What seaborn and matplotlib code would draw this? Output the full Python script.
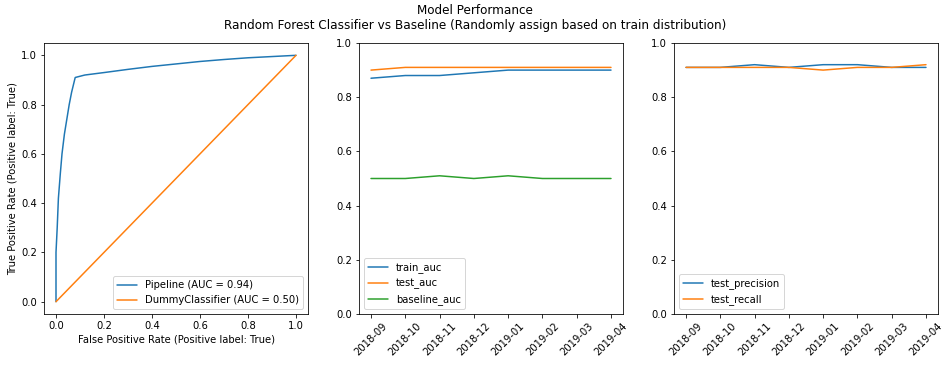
import matplotlib
matplotlib.use("Agg")
import matplotlib.pyplot as plt
import numpy as np
import pandas as pd
import seaborn as sns

# ROC curves
roc_fpr = [0.0, 0.0, 0.005, 0.01, 0.018, 0.025, 0.035, 0.045, 0.055, 0.065, 0.08,
           0.12, 0.2, 0.3, 0.4, 0.5, 0.6, 0.7, 0.8, 0.9, 1.0]
roc_tpr = [0.0, 0.2, 0.3, 0.42, 0.52, 0.6, 0.68, 0.74, 0.8, 0.85, 0.91,
           0.92, 0.93, 0.943, 0.955, 0.965, 0.975, 0.983, 0.99, 0.995, 1.0]
dummy_fpr = [0.0, 1.0]
dummy_tpr = [0.0, 1.0]

months = ['2018-09', '2018-10', '2018-11', '2018-12', '2019-01', '2019-02', '2019-03', '2019-04']
train_auc = [0.87, 0.88, 0.88, 0.89, 0.90, 0.90, 0.90, 0.90]
test_auc = [0.90, 0.91, 0.91, 0.91, 0.91, 0.91, 0.91, 0.91]
baseline_auc = [0.50, 0.50, 0.51, 0.50, 0.51, 0.50, 0.50, 0.50]
test_precision = [0.91, 0.91, 0.92, 0.91, 0.92, 0.92, 0.91, 0.91]
test_recall = [0.91, 0.91, 0.91, 0.91, 0.90, 0.91, 0.91, 0.92]

sns.set_style("ticks", {'text.color': 'black', 'axes.labelcolor': 'black',
                        'xtick.color': 'black', 'ytick.color': 'black',
                        'axes.edgecolor': 'black'})
plt.rcParams['font.family'] = ['DejaVu Sans']
plt.rcParams['font.size'] = 10
pal = sns.color_palette("tab10")

fig = plt.figure(figsize=(950 / 72, 365 / 72), dpi=72)
bottom = 1 - 314 / 365
height = (314 - 43) / 365
ax1 = fig.add_axes([44 / 950, bottom, 264 / 950, height])
ax2 = fig.add_axes([359 / 950, bottom, 264 / 950, height])
ax3 = fig.add_axes([674 / 950, bottom, 264 / 950, height])

# ROC panel
sns.lineplot(x=roc_fpr, y=roc_tpr, ax=ax1, color=pal[0], label='Pipeline (AUC = 0.94)',
             sort=False, estimator=None)
sns.lineplot(x=dummy_fpr, y=dummy_tpr, ax=ax1, color=pal[1], label='DummyClassifier (AUC = 0.50)',
             sort=False, estimator=None)
ax1.set_xlabel('False Positive Rate (Positive label: True)')
ax1.set_ylabel('True Positive Rate (Positive label: True)')
ax1.set_xlim(-0.05, 1.05)
ax1.set_ylim(-0.05, 1.05)
ax1.legend(loc='lower right')

# AUC over time
auc_df = pd.DataFrame({'month': months, 'train_auc': train_auc,
                       'test_auc': test_auc, 'baseline_auc': baseline_auc})
auc_long = auc_df.melt(id_vars='month', var_name='metric', value_name='value')
sns.lineplot(data=auc_long, x='month', y='value', hue='metric', palette=pal[:3], ax=ax2)
ax2.set_ylim(0, 1)
ax2.set_xlabel('')
ax2.set_ylabel('')
ax2.legend(loc='lower left')
ax2.tick_params(axis='x', rotation=45)

# precision / recall over time
pr_df = pd.DataFrame({'month': months, 'test_precision': test_precision, 'test_recall': test_recall})
pr_long = pr_df.melt(id_vars='month', var_name='metric', value_name='value')
sns.lineplot(data=pr_long, x='month', y='value', hue='metric', palette=pal[:2], ax=ax3)
ax3.set_ylim(0, 1)
ax3.set_xlabel('')
ax3.set_ylabel('')
ax3.legend(loc='lower left')
ax3.tick_params(axis='x', rotation=45)

fig.suptitle('Model Performance\nRandom Forest Classifier vs Baseline (Randomly assign based on train distribution)',
             fontsize=12, y=0.99)

fig.savefig('out.png', dpi=72)
